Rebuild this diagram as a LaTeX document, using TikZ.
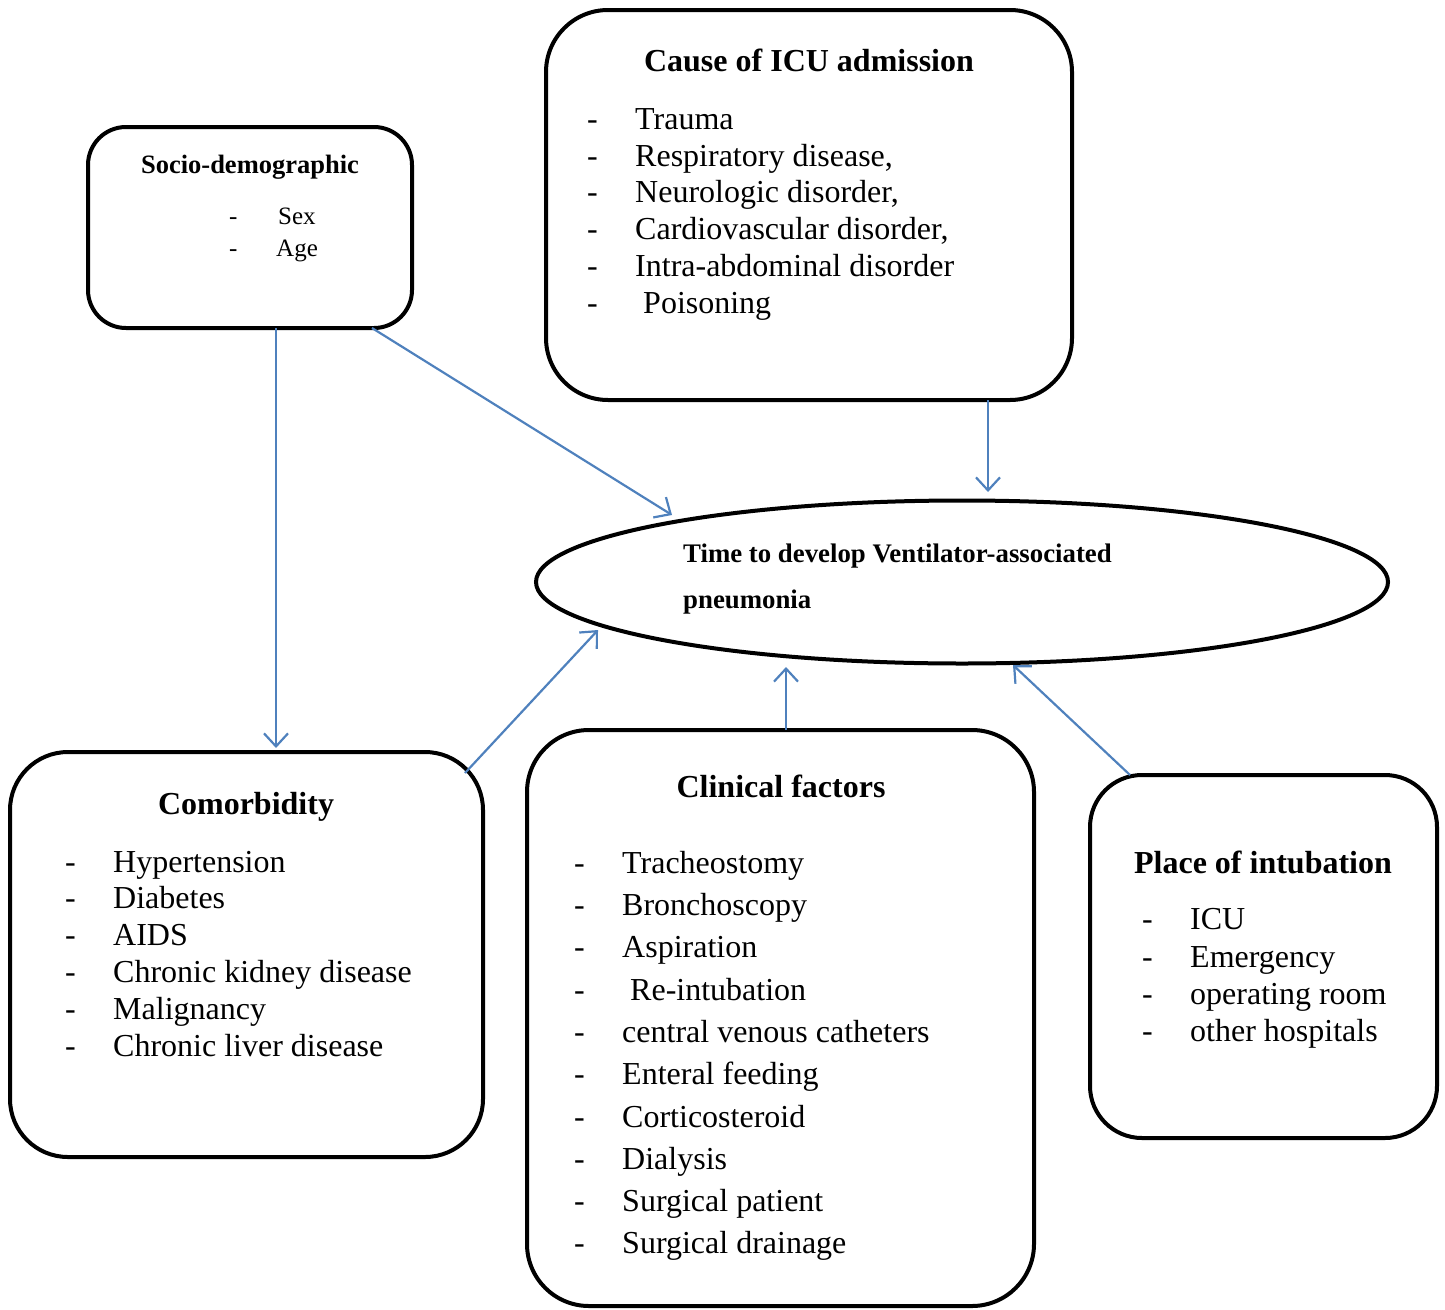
\documentclass[tikz,border=0pt]{standalone}
\usepackage{fontspec}
\setmainfont{Liberation Serif}
\usetikzlibrary{arrows.meta,shapes.geometric}
\begin{document}
\begin{tikzpicture}[x=1pt,y=-1pt,
  box/.style={draw=black,line width=4pt},
  link/.style={draw={rgb,255:red,79;green,129;blue,189},line width=2.2pt,-{Straight Barb[length=13pt,width=24pt,line width=2.2pt]}},
  item/.style={anchor=base west,inner sep=0pt,font=\fontsize{32}{34}\selectfont},
  sitem/.style={anchor=base west,inner sep=0pt,font=\fontsize{25}{27}\selectfont},
  ttl/.style={anchor=base,inner sep=0pt,font=\fontsize{32}{34}\selectfont\bfseries},
]
\useasboundingbox (0,0) rectangle (1445,1309);
% boxes
\draw[box,rounded corners=38pt] (88,127) rectangle (412,328);
\draw[box,rounded corners=62pt] (546,10) rectangle (1072,400);
\draw[box,rounded corners=58pt] (10,752) rectangle (483,1157);
\draw[box,rounded corners=62pt] (527,730) rectangle (1034,1306);
\draw[box,rounded corners=52pt] (1090,775) rectangle (1437,1138);
\node[ellipse,draw=black,line width=4pt,minimum width=852pt,minimum height=163pt,inner sep=0pt] (vap) at (962,582) {};

% socio text
\node[ttl,font=\fontsize{26.5}{28}\selectfont\bfseries] (sT) at (250,173) {Socio-demographic};
\node[sitem] (s1d) at (229,224) {-};
\node[sitem] (s1) at (278,224) {Sex};
\node[sitem] (s2d) at (229,256) {-};
\node[sitem] (s2) at (276,256) {Age};

% cause
\node[ttl] (cT) at (809,71) {Cause of ICU admission};
\foreach \t/\y/\x [count=\i] in {Trauma/129/635, {Respiratory disease,}/166/635, {Neurologic disorder,}/202/635, {Cardiovascular disorder,}/239/635, {Intra-abdominal disorder}/276/635, {Poisoning}/313/643}{
  \node[item] (cd\i) at (587,\y) {-};
  \node[item] (c\i) at (\x,\y) {\t};
}

% ellipse text
\node[anchor=base west,inner sep=0pt,font=\fontsize{26.8}{28}\selectfont\bfseries] (vt1) at (683,562) {Time to develop Ventilator-associated};
\node[anchor=base west,inner sep=0pt,font=\fontsize{26.8}{28}\selectfont\bfseries] (vt2) at (683,608) {pneumonia};

% comorbidity
\node[ttl] (mT) at (246,814) {Comorbidity};
\foreach \t/\y [count=\i] in {Hypertension/872, Diabetes/908, AIDS/945, {Chronic kidney disease}/982, Malignancy/1019, {Chronic liver disease}/1056}{
  \node[item] (md\i) at (65,\y) {-};
  \node[item] (m\i) at (113,\y) {\t};
}

% clinical
\node[ttl] (kT) at (781,797) {Clinical factors};
\foreach \t/\y/\x [count=\i] in {Tracheostomy/873/622, Bronchoscopy/915/622, Aspiration/957/622, {Re-intubation}/1000/630, {central venous catheters}/1042/622, {Enteral feeding}/1084/622, Corticosteroid/1127/622, Dialysis/1169/622, {Surgical patient}/1211/622, {Surgical drainage}/1253/622}{
  \node[item] (kd\i) at (574,\y) {-};
  \node[item] (k\i) at (\x,\y) {\t};
}

% place
\node[ttl] (pT) at (1263,873) {Place of intubation};
\foreach \t/\y [count=\i] in {ICU/929, Emergency/967, {operating room}/1004, {other hospitals}/1041}{
  \node[item] (pd\i) at (1142,\y) {-};
  \node[item] (p\i) at (1190,\y) {\t};
}

% connectors
\coordinate (a1s) at (276,328); \coordinate (a1e) at (276,748);
\coordinate (a2s) at (372,328); \coordinate (a2e) at (672,515);
\coordinate (a3s) at (988,400); \coordinate (a3e) at (988,492);
\coordinate (a4s) at (465,773); \coordinate (a4e) at (598,630);
\coordinate (a5s) at (786,730); \coordinate (a5e) at (786,667);
\coordinate (a6s) at (1130,775); \coordinate (a6e) at (1013,665);
\draw[link] (a1s) -- (a1e);
\draw[link] (a2s) -- (a2e);
\draw[link] (a3s) -- (a3e);
\draw[link] (a4s) -- (a4e);
\draw[link] (a5s) -- (a5e);
\draw[link] (a6s) -- (a6e);
\end{tikzpicture}
\end{document}
